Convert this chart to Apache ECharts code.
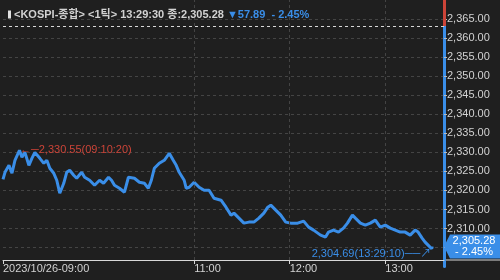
<!DOCTYPE html>
<html><head><meta charset="utf-8">
<script src="https://cdn.jsdelivr.net/npm/echarts@6/dist/echarts.min.js"></script>
<style>html,body{margin:0;padding:0;background:#1f1f1f}#c{width:500px;height:280px}</style>
</head><body><div id="c"></div>
<script>
// ---- data ----
const times = [
 '09:00:00','09:01:15','09:03:45','09:05:38','09:07:30','09:10:20','09:11:53','09:13:45','09:16:15','09:18:08',
 '09:20:00','09:21:15','09:23:08','09:25:38','09:27:30','09:29:23','09:31:53','09:33:45','09:35:38','09:38:08',
 '09:40:00','09:41:53','09:44:23','09:46:15','09:49:23','09:51:15','09:54:23','09:57:30','10:00:38','10:03:08',
 '10:06:15','10:08:08','10:10:00','10:13:08','10:16:15','10:18:45','10:20:00','10:22:30','10:25:38','10:28:45',
 '10:31:15','10:33:08','10:35:00','10:38:08','10:41:15','10:44:23','10:46:53','10:48:45','10:50:38','10:53:45',
 '10:55:00','10:56:53','11:00:00','11:03:08','11:06:15','11:09:23','11:10:38','11:12:30','11:13:45','11:16:53',
 '11:20:00','11:23:08','11:25:00','11:28:08','11:31:15','11:34:23','11:37:30','11:40:38','11:43:45','11:46:15',
 '11:48:08','11:51:15','11:54:23','11:57:30','12:00:38','12:05:00','12:08:45','12:11:53','12:15:00','12:19:23',
 '12:22:30','12:24:23','12:27:30','12:30:38','12:33:45','12:36:15','12:39:23','12:41:15','12:44:23','12:47:30',
 '12:50:38','12:53:45','12:56:53','13:00:00','13:03:08','13:06:15','13:09:23','13:12:30','13:15:38','13:18:45',
 '13:20:38','13:23:08','13:25:00','13:26:53','13:29:10','13:29:30'
];
const prices = [
 2322.90,2324.76,2326.60,2324.50,2327.91,2330.55,2328.69,2330.00,2326.60,2328.43,
 2330.00,2330.40,2328.43,2327.12,2327.91,2325.81,2324.50,2322.67,2319.27,2321.88,
 2324.76,2325.29,2323.98,2323.19,2324.76,2323.46,2322.67,2321.36,2322.67,2321.88,
 2323.46,2322.67,2321.36,2320.58,2319.53,2323.46,2323.98,2323.19,2322.15,2321.88,
 2320.58,2322.67,2325.81,2327.12,2327.91,2329.74,2327.91,2326.60,2324.76,2322.67,
 2320.58,2320.84,2322.15,2320.84,2320.05,2320.05,2319.53,2317.96,2317.96,2317.43,
 2315.60,2313.51,2314.03,2312.72,2311.41,2311.68,2311.68,2312.72,2314.03,2315.60,
 2316.13,2314.82,2313.51,2311.68,2311.41,2311.41,2311.94,2310.37,2309.58,2308.27,
 2307.75,2309.06,2309.58,2309.06,2310.10,2311.41,2313.51,2312.72,2311.41,2310.89,
 2311.41,2312.20,2310.37,2310.89,2310.10,2309.58,2309.06,2309.06,2308.27,2309.58,
 2309.06,2307.49,2306.44,2305.65,2304.69,2305.28
];
const prevClose = 2363.17;
const lastTime = '13:29:30';
const lastPrice = 2305.28;
const change = -57.89;
const changePct = -2.45;
const maxTime = '09:10:20', maxPrice = 2330.55;
const minTime = '13:29:10', minPrice = 2304.69;
const xTickTimes = ['09:00:00','11:00:00','12:00:00','13:00:00'];
const xTickLabels = ['2023/10/26-09:00','11:00','12:00','13:00'];
const title = '<KOSPI-종합> <1틱>';

// ---- helpers ----
const toSec = s => { const p = s.split(':').map(Number); return (p[0]-9)*3600 + p[1]*60 + (p[2]||0); };
const fmt = v => v.toLocaleString('en-US',{minimumFractionDigits:2, maximumFractionDigits:2});
const xTickSecs = xTickTimes.map(toSec);
const X_MAX = 16612.5, Y_MIN = 2300, Y_MAX = 2370;
const FONT = '"Liberation Sans", "Noto Sans CJK KR", sans-serif';
const BLUE = '#3a8ee8', RED = '#cc4438', TXT = '#d2d2d2', GRID = '#444444';
const axisBottomVal = 2301.73;

const chart = echarts.init(document.getElementById('c'), null, {renderer:'canvas'});
chart.setOption({
  backgroundColor: '#1f1f1f',
  animation: false,
  title: {
    left: 3, top: 4,
    text: '{bar| }{w|' + title + ' ' + lastTime + ' 종:' + fmt(lastPrice) + '}{b| ▼' + fmt(Math.abs(change)) + '  - ' + fmt(Math.abs(changePct)) + '%}',
    textStyle: {
      fontSize: 11, fontFamily: FONT, color: TXT,
      rich: {
        bar: {width: 3, height: 8, backgroundColor: '#e0e0e0'},
        w: {fontSize: 11, fontFamily: FONT, color: TXT, padding: [0,0,0,3]},
        b: {fontSize: 11, fontFamily: FONT, color: BLUE}
      }
    }
  },
  grid: {left: 1, right: 56, top: -0.8, bottom: 13.4},
  xAxis: {
    type: 'value', min: 0, max: X_MAX, interval: 3600, offset: -6.6,
    axisLine: {show: true, onZero: false, lineStyle: {color: '#d8d8d8', width: 1}},
    axisTick: {show: true, length: 4, customValues: xTickSecs, lineStyle: {color: '#d8d8d8'}},
    axisLabel: {
      customValues: xTickSecs, align: 'left', margin: 3, color: TXT, fontSize: 11, fontFamily: FONT,
      formatter: v => { const i = xTickSecs.indexOf(v); return i >= 0 ? xTickLabels[i] : ''; }
    },
    splitLine: {show: false}
  },
  yAxis: {
    type: 'value', position: 'right', min: Y_MIN, max: Y_MAX, interval: 5,
    axisLine: {show: true, onZero: false, lineStyle: {color: BLUE, width: 3}},
    axisTick: {show: true, length: 3, lineStyle: {color: '#bbbbbb'}},
    axisLabel: {showMinLabel: false, showMaxLabel: false, margin: 3, color: TXT, fontSize: 11, fontFamily: FONT,
      formatter: v => fmt(v)},
    splitLine: {show: true, showMinLine: false, showMaxLine: false, lineStyle: {color: GRID, type: [3,3], width: 1}}
  },
  series: [{
    type: 'line', clip: false, showSymbol: false, symbol: 'none',
    data: times.map((t,i) => [toSec(t), prices[i]]),
    lineStyle: {color: BLUE, width: 3},
    z: 3,
    markLine: {
      silent: true, symbol: 'none', animation: false, label: {show: false},
      data: [
        {yAxis: prevClose, lineStyle: {color: '#d8d8d8', type: [3,3], width: 1}},
        [{coord: [X_MAX, prevClose], lineStyle: {color: RED, width: 3, type: 'solid'}},
         {coord: [X_MAX, Y_MAX], lineStyle: {color: RED, width: 3, type: 'solid'}}],
        ...xTickSecs.slice(1).map(s => [
          {coord: [s, axisBottomVal], lineStyle: {color: GRID, type: [3,3], width: 1}},
          {coord: [s, Y_MAX], lineStyle: {color: GRID, type: [3,3], width: 1}}
        ])
      ]
    },
    markPoint: {
      silent: true, animation: false,
      data: [
        {coord: [toSec(maxTime), maxPrice], symbol: 'circle', symbolSize: 1, itemStyle: {color: 'rgba(0,0,0,0)'},
         label: {show: true, position: 'right', distance: 0, color: RED, fontSize: 11, fontFamily: FONT,
           formatter: '←─' + fmt(maxPrice) + '(' + maxTime + ')'}},
        {coord: [toSec(minTime), minPrice], symbol: 'circle', symbolSize: 1, itemStyle: {color: 'rgba(0,0,0,0)'},
         label: {show: true, position: 'left', distance: 0, offset: [0, 5], color: BLUE, fontSize: 11, fontFamily: FONT,
           formatter: fmt(minPrice) + '(' + minTime + ')──↗'}},
        {coord: [X_MAX, lastPrice], symbol: 'path://M0,12 L6,0 L56,0 L56,24 L6,24 Z', symbolSize: [56, 24],
         symbolOffset: [28, 0], itemStyle: {color: BLUE},
         label: {show: true, position: 'inside', offset: [2, 0], color: '#ffffff', fontSize: 11, lineHeight: 11, fontFamily: FONT,
           formatter: fmt(lastPrice) + '\n- ' + fmt(Math.abs(changePct)) + '%'}}
      ]
    }
  }]
});
const yLine = chart.convertToPixel({yAxisIndex: 0}, Y_MIN) - 6.6;
const xRight = chart.convertToPixel({xAxisIndex: 0}, X_MAX);
chart.setOption({graphic: [{type: 'line', silent: true, shape: {x1: xRight, y1: yLine, x2: 500, y2: yLine},
  style: {stroke: '#d8d8d8', lineWidth: 1}}]});
</script>
</body></html>
